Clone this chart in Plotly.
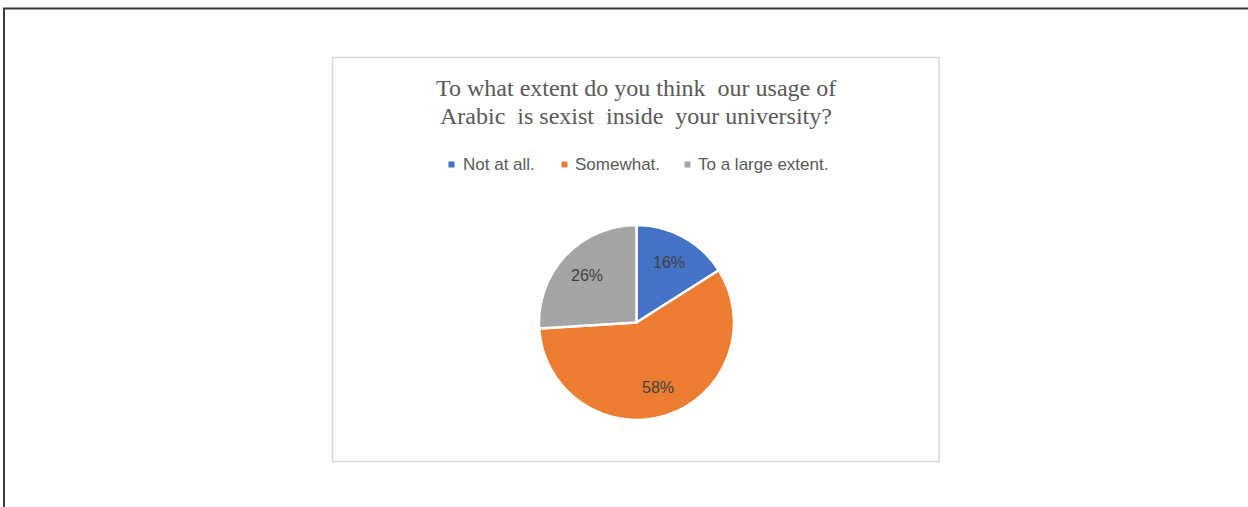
import math
import plotly.graph_objects as go

# Survey answers and their shares (%)
categories = ["Not at all.", "Somewhat.", "To a large extent."]
shares = [16, 58, 26]
colors = ["#4472C4", "#ED7D31", "#A5A5A5"]
title_lines = ["To what extent do you think  our usage of",
               "Arabic  is sexist  inside  your university?"]

W, H = 1248, 507


def px(x):
    return x / W


def py(y):
    return 1 - y / H


# pie placement (pixels)
cx, cy, r = 636.5, 322.5, 97.5

fig = go.Figure()
fig.add_trace(go.Pie(
    labels=categories,
    values=shares,
    marker=dict(colors=colors, line=dict(color="white", width=2.5)),
    sort=False,
    direction="clockwise",
    rotation=0,
    textinfo="none",
    showlegend=False,
    hoverinfo="label+percent",
    domain=dict(x=[px(cx - r), px(cx + r)], y=[py(cy + r), py(cy - r)]),
))

shapes = [
    # outer frame lines
    dict(type="line", xref="paper", yref="paper", x0=px(3), x1=px(1248),
         y0=py(8.5), y1=py(8.5), line=dict(color="#3a3a3a", width=2)),
    dict(type="line", xref="paper", yref="paper", x0=px(4), x1=px(4),
         y0=py(8), y1=py(507), line=dict(color="#3a3a3a", width=2)),
    # chart area border
    dict(type="rect", xref="paper", yref="paper", x0=px(332.5), x1=px(939),
         y0=py(461.5), y1=py(57.5), line=dict(color="#D9D9D9", width=1.5)),
]

annotations = []

# percentage labels placed along each slice's mid angle
total = sum(shares)
start = 0.0
for v in shares:
    frac = v / total
    mid = (start + frac / 2) * 2 * math.pi  # clockwise from 12 o'clock
    start += frac
    lx = cx + 0.7 * r * math.sin(mid)
    ly = cy - 0.7 * r * math.cos(mid)
    annotations.append(dict(
        text=f"{frac * 100:.0f}%", xref="paper", yref="paper",
        x=px(lx), y=py(ly), xanchor="center", yanchor="middle",
        showarrow=False,
        font=dict(family="Liberation Sans", size=16, color="#404040"),
    ))

# title, two lines
for i, line in enumerate(title_lines):
    annotations.append(dict(
        text=line, xref="paper", yref="paper", x=px(636), y=py(88 + 28 * i),
        xanchor="center", yanchor="middle", showarrow=False,
        font=dict(family="Liberation Serif", size=24, color="#595959"),
    ))

# legend entries: swatch + label
swatch_x = [451.5, 564.5, 687.5]
text_x = [461, 573, 696]
for cat, col, sx, tx in zip(categories, colors, swatch_x, text_x):
    shapes.append(dict(type="rect", xref="paper", yref="paper",
                       x0=px(sx - 3), x1=px(sx + 3), y0=py(167.5), y1=py(161.5),
                       fillcolor=col, line=dict(width=0)))
    annotations.append(dict(
        text=cat, xref="paper", yref="paper", x=px(tx), y=py(164),
        xanchor="left", yanchor="middle", showarrow=False,
        font=dict(family="Liberation Sans", size=17, color="#595959"),
    ))

fig.update_layout(
    width=W, height=H,
    margin=dict(l=0, r=0, t=0, b=0),
    paper_bgcolor="white", plot_bgcolor="white",
    shapes=shapes, annotations=annotations,
)

fig.write_html("out.html")
